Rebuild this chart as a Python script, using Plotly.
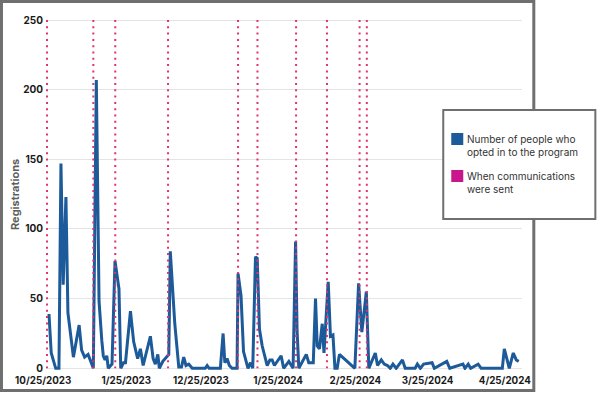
import plotly.graph_objects as go

# ---------------- data ----------------
# days after 10/25/2023
day_offset = [
    0.0, 0.9, 2.7, 4.0, 4.8, 5.7, 6.8, 7.6, 9.8, 12.1,
    13.1, 14.3, 15.7, 16.8, 17.8, 19.0, 20.1, 21.2, 21.8, 22.5,
    23.2, 23.8, 25.3, 26.5, 28.1, 28.8, 29.9, 30.7, 32.7, 34.0,
    35.6, 36.7, 37.8, 40.7, 41.8, 42.7, 43.7, 44.3, 45.7, 48.1,
    48.7, 50.5, 52.1, 53.2, 54.1, 55.0, 56.1, 57.5, 62.7, 63.5,
    64.3, 68.8, 69.9, 70.6, 71.5, 72.4, 73.5, 75.5, 75.9, 77.1,
    78.1, 79.9, 80.9, 81.8, 82.9, 83.6, 84.5, 85.6, 86.7, 87.6,
    88.7, 89.6, 90.5, 92.3, 93.2, 94.2, 96.3, 97.3, 98.0, 99.0,
    99.6, 100.3, 101.6, 103.3, 104.3, 106.1, 107.0, 107.7, 108.6, 109.7,
    110.4, 111.0, 112.1, 113.0, 114.0, 114.8, 115.7, 116.6, 121.7, 122.8,
    124.3, 125.6, 127.4, 128.4, 131.0, 131.9, 133.4, 134.6, 135.9, 137.0,
    138.1, 139.4, 141.9, 143.0, 147.0, 147.9, 149.1, 150.4, 153.8, 154.7,
    159.7, 160.9, 166.2, 167.0, 168.3, 169.3, 172.3, 173.5, 182.0, 182.8,
    184.8, 186.4, 187.6, 188.6,
]
registrations = [
    39, 11, 0, 0, 147, 60, 123, 40, 8, 31,
    13, 8, 10, 5, 0, 207, 48, 20, 9, 6,
    9, 0, 3, 77, 57, 0, 4, 4, 41, 19,
    7, 14, 2, 23, 7, 3, 10, 0, 5, 10,
    84, 32, 1, 1, 8, 2, 3, 0, 0, 2,
    0, 0, 25, 4, 7, 2, 0, 0, 68, 52,
    12, 0, 4, 0, 80, 79, 28, 16, 7, 2,
    6, 6, 2, 7, 9, 0, 5, 2, 0, 91,
    27, 0, 4, 10, 4, 4, 50, 16, 14, 32,
    11, 28, 62, 23, 24, 0, 0, 10, 2, 0,
    61, 26, 55, 0, 11, 2, 6, 3, 2, 0,
    3, 0, 6, 0, 0, 3, 0, 3, 4, 0,
    5, 0, 3, 0, 3, 0, 3, 0, 0, 14,
    0, 11, 6, 5,
]
# days on which communications were sent
comm_days = [-0.8, 17.8, 26.6, 47.8, 75.9, 83.7, 99.2, 111.6, 124.7, 127.6]

tick_days = [0, 31, 61, 92, 123, 152, 183]
tick_labels = ["10/25/2023", "1/25/2023", "12/25/2023", "1/25/2024",
               "2/25/2024", "3/25/2024", "4/25/2024"]
y_ticks = [0, 50, 100, 150, 200, 250]
legend_labels = ["Number of people who<br>opted in to the program",
                 "When communications<br>were sent"]

# ---------------- styles ----------------
BLUE = "#1c5a99"
DOT = "#e2326f"
PINK = "#c8168c"
FRAME = "#6f6f6f"
FONT = "Inter"

W, H = 597, 393
L, R = 46, 521.7
T, B = 18, 370
PW, PH = R - L, B - T


def px(x):
    return (x - L) / PW


def py(y):
    return (B - y) / PH


fig = go.Figure()
fig.add_trace(go.Scatter(
    x=day_offset, y=registrations, mode="lines",
    line=dict(color=BLUE, width=3), showlegend=False, hoverinfo="x+y"))

cx, cy = [], []
for d in comm_days:
    cx += [d, d, None]
    cy += [250, 0, None]
fig.add_trace(go.Scatter(
    x=cx, y=cy, mode="lines",
    line=dict(color=DOT, width=2, dash="2px,4.3px"),
    showlegend=False, hoverinfo="skip"))

shapes = [
    # outer frame
    dict(type="rect", xref="paper", yref="paper",
         x0=px(1.5), x1=px(533.5), y0=py(390.5), y1=py(1.5),
         line=dict(color=FRAME, width=3), fillcolor="rgba(0,0,0,0)", layer="above"),
    # legend box
    dict(type="rect", xref="paper", yref="paper",
         x0=px(443), x1=px(595), y0=py(219), y1=py(110),
         line=dict(color=FRAME, width=2), fillcolor="white", layer="above"),
    # legend swatches
    dict(type="rect", xref="paper", yref="paper",
         x0=px(451), x1=px(463), y0=py(145), y1=py(133),
         line=dict(width=0), fillcolor=BLUE, layer="above"),
    dict(type="rect", xref="paper", yref="paper",
         x0=px(451), x1=px(463), y0=py(182), y1=py(170),
         line=dict(width=0), fillcolor=PINK, layer="above"),
]

annotations = [
    dict(text="Registrations", xref="paper", yref="paper", x=px(15), y=py(194),
         textangle=-90, showarrow=False, xanchor="center", yanchor="middle",
         font=dict(family=FONT, size=11, color="#5e5e5e", weight=700)),
    dict(text=legend_labels[0], xref="paper", yref="paper", x=px(465), y=py(145.5),
         showarrow=False, xanchor="left", yanchor="middle", align="left",
         font=dict(family=FONT, size=10, color="#333333")),
    dict(text=legend_labels[1], xref="paper", yref="paper", x=px(465), y=py(182),
         showarrow=False, xanchor="left", yanchor="middle", align="left",
         font=dict(family=FONT, size=10, color="#333333")),
]

ylo = -(B - 368.3) / 1.3932
yhi = (368.3 - T) / 1.3932

fig.update_layout(
    width=W, height=H,
    margin=dict(l=L, r=W - R, t=T, b=H - B, autoexpand=False),
    paper_bgcolor="white", plot_bgcolor="white",
    showlegend=False,
    shapes=shapes, annotations=annotations,
    xaxis=dict(range=[-1.2, 189.9], tickvals=tick_days,
               ticktext=[tick_labels[0] + "\u00a0" * 5] + tick_labels[1:],
               showgrid=False, zeroline=False, showline=False, ticks="",
               ticklabelstandoff=3,
               tickfont=dict(family=FONT, size=9.8, color="#1a1a1a", weight=700)),
    yaxis=dict(range=[ylo, yhi], tickvals=y_ticks, showgrid=True,
               gridcolor="#e4e4e4", gridwidth=1, zeroline=False, showline=False,
               ticks="", ticklabelstandoff=2,
               tickfont=dict(family=FONT, size=10, color="#1a1a1a", weight=700)),
)

fig.write_html("out.html", config={"displayModeBar": False},
               post_script="document.body.style.margin='0';")
